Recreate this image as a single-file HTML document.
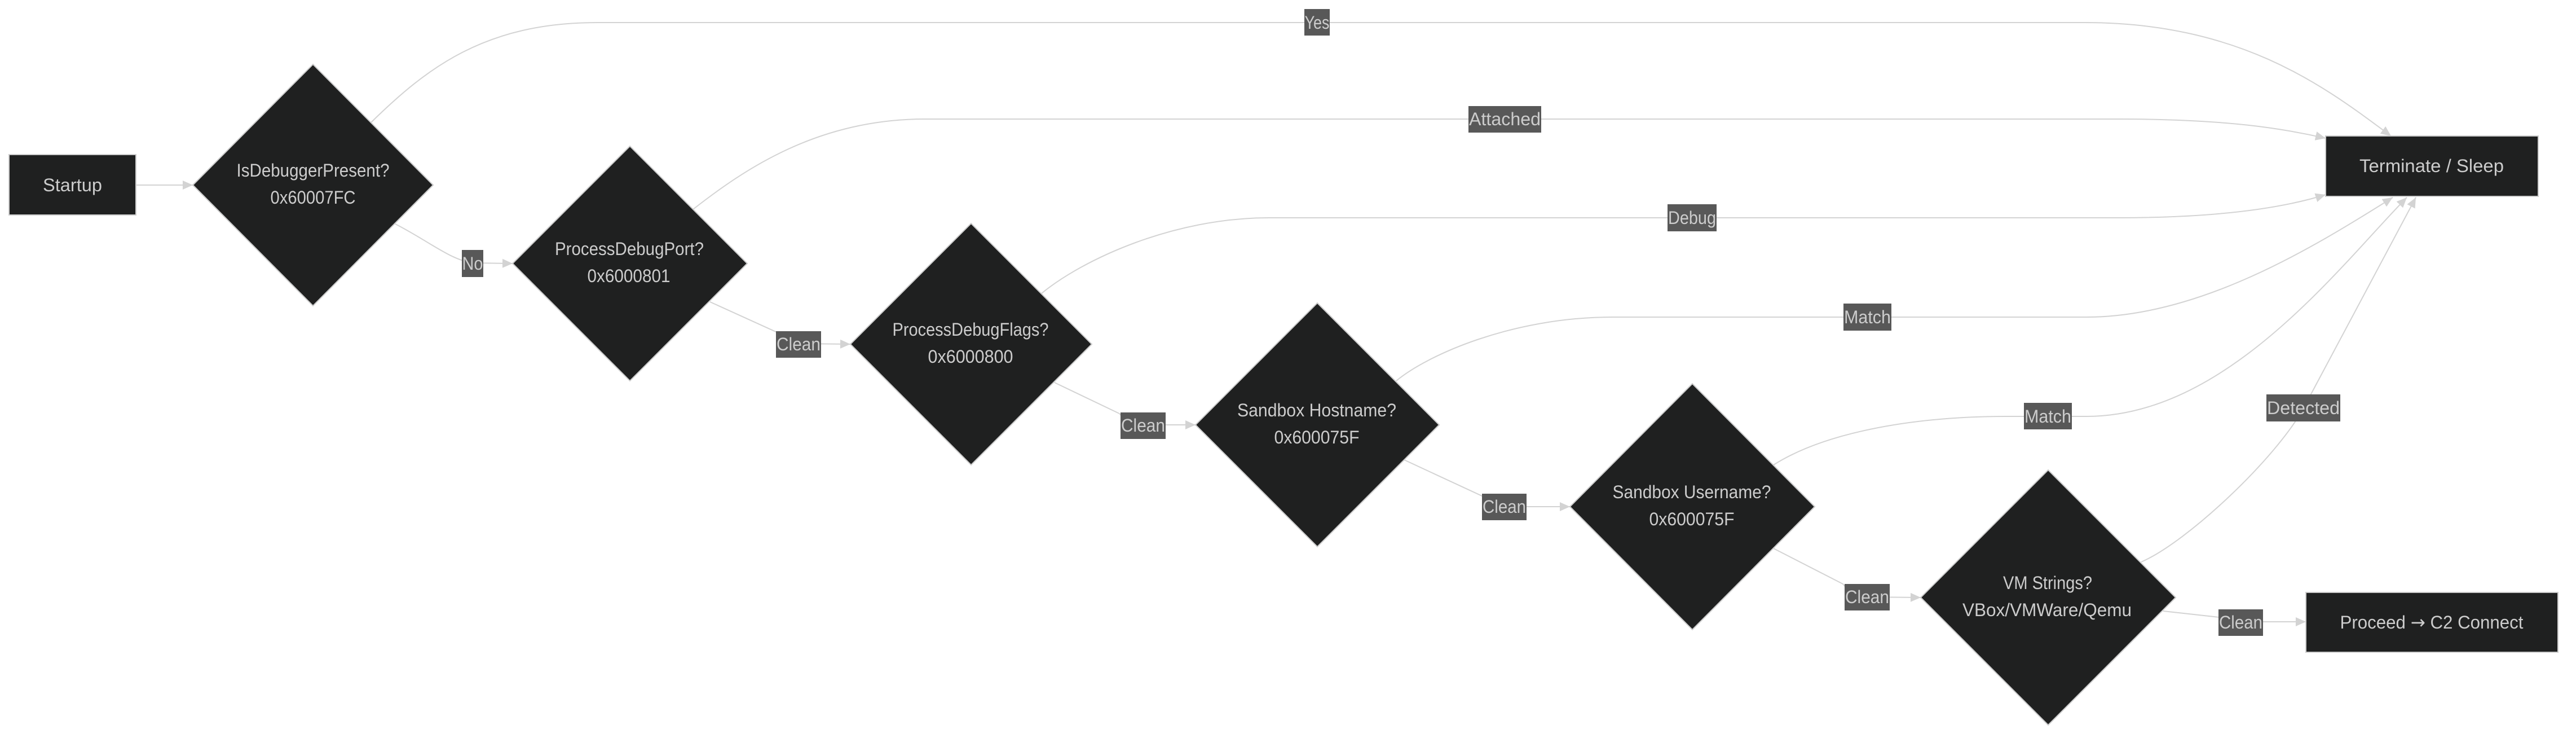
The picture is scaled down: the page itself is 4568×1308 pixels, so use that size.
<!DOCTYPE html>
<html>
<head>
<meta charset="utf-8">
<style>
  html, body { margin:0; padding:0; background:#ffffff; }
  svg { display:block; }
  .edge { fill:none; stroke:#d3d3d3; stroke-width:2; }
  .node { fill:#1f2020; stroke:#cccccc; stroke-width:2; }
  .lbl { fill:#585858; }
  text { font-family:"Liberation Sans","DejaVu Sans",sans-serif; font-size:32px; fill:#cccccc; text-anchor:middle; }
</style>
</head>
<body>
<svg width="4568" height="1308" viewBox="0 0 4568 1308" xmlns="http://www.w3.org/2000/svg">
  <defs>
    <marker id="ah" markerUnits="userSpaceOnUse" viewBox="0 0 18 16" markerWidth="18" markerHeight="16" refX="18" refY="8" orient="auto">
      <path d="M0,0 L18,8 L0,16 z" fill="#d3d3d3"/>
    </marker>
  </defs>

  <!-- Edges -->
  <path class="edge" marker-end="url(#ah)" d="M241,328 L342,328"/>
  <path class="edge" marker-end="url(#ah)" d="M657,218 C757,120 860,40 1060,40 L3697,40 C3980,40 4130,160 4240,241"/>
  <path class="edge" marker-end="url(#ah)" d="M701,397 C760,427 800,462 840,466 L909,467"/>
  <path class="edge" marker-end="url(#ah)" d="M1229,371 C1320,300 1450,211 1640,211 L3755,211 C3950,211 4050,228 4124,245"/>
  <path class="edge" marker-end="url(#ah)" d="M1259,535 L1380,590 Q1395,608 1420,609 L1508,610"/>
  <path class="edge" marker-end="url(#ah)" d="M1847,520 C1920,460 2080,386 2250,386 L3755,386 C3950,386 4060,365 4124,345"/>
  <path class="edge" marker-end="url(#ah)" d="M1870,678 L1985,733 Q2000,752 2030,753 L2120,753"/>
  <path class="edge" marker-end="url(#ah)" d="M2476,675 C2530,630 2680,562 2860,562 L3700,562 C3900,562 4100,440 4243,350"/>
  <path class="edge" marker-end="url(#ah)" d="M2490,815 L2630,880 Q2645,897 2670,898 L2784,898"/>
  <path class="edge" marker-end="url(#ah)" d="M3145,824 C3230,770 3380,738 3560,738 L3700,738 C3950,738 4150,470 4268,350"/>
  <path class="edge" marker-end="url(#ah)" d="M3145,972 L3268,1035 Q3285,1056 3311,1058 L3406,1059"/>
  <path class="edge" marker-end="url(#ah)" d="M3797,996 C3880,960 4037,811 4085,723 L4284,350"/>
  <path class="edge" marker-end="url(#ah)" d="M3836,1083 L3935,1094 Q3950,1102 3975,1102 L4089,1102"/>

  <!-- Nodes -->
  <rect class="node" x="16" y="274" width="225" height="107"/>
  <text x="128.5" y="339" textLength="105" lengthAdjust="spacingAndGlyphs">Startup</text>

  <polygon class="node" points="555,114 768,328 555,542 342,328"/>
  <text x="555" y="313" textLength="271" lengthAdjust="spacingAndGlyphs">IsDebuggerPresent?</text>
  <text x="555" y="361" textLength="151" lengthAdjust="spacingAndGlyphs">0x60007FC</text>

  <polygon class="node" points="1117,259 1325,467 1117,675 909,467"/>
  <text x="1116" y="452" textLength="264" lengthAdjust="spacingAndGlyphs">ProcessDebugPort?</text>
  <text x="1115" y="500" textLength="147" lengthAdjust="spacingAndGlyphs">0x6000801</text>

  <polygon class="node" points="1722,396 1936,610 1722,824 1508,610"/>
  <text x="1721" y="595" textLength="277" lengthAdjust="spacingAndGlyphs">ProcessDebugFlags?</text>
  <text x="1721" y="643" textLength="151" lengthAdjust="spacingAndGlyphs">0x6000800</text>

  <polygon class="node" points="2336,537 2552,753 2336,969 2120,753"/>
  <text x="2335" y="738" textLength="282" lengthAdjust="spacingAndGlyphs">Sandbox Hostname?</text>
  <text x="2335" y="786" textLength="151" lengthAdjust="spacingAndGlyphs">0x600075F</text>

  <polygon class="node" points="3001,680 3218,898 3001,1116 2784,898"/>
  <text x="3000" y="883" textLength="281" lengthAdjust="spacingAndGlyphs">Sandbox Username?</text>
  <text x="3000" y="931" textLength="151" lengthAdjust="spacingAndGlyphs">0x600075F</text>

  <polygon class="node" points="3632,833 3858,1059 3632,1285 3406,1059"/>
  <text x="3631" y="1044" textLength="158" lengthAdjust="spacingAndGlyphs">VM Strings?</text>
  <text x="3630" y="1092" textLength="300" lengthAdjust="spacingAndGlyphs">VBox/VMWare/Qemu</text>

  <rect class="node" x="4124" y="241" width="377" height="107"/>
  <text x="4312" y="305" textLength="256" lengthAdjust="spacingAndGlyphs">Terminate / Sleep</text>

  <rect class="node" x="4089" y="1050" width="447" height="106"/>
  <text x="4312" y="1114" textLength="325" lengthAdjust="spacingAndGlyphs">Proceed <tspan style="font-family:'DejaVu Sans',sans-serif">→</tspan> C2 Connect</text>

  <!-- Edge labels -->
  <rect class="lbl" x="2313" y="16" width="45" height="47"/>
  <text x="2335.5" y="51" textLength="44" lengthAdjust="spacingAndGlyphs">Yes</text>

  <rect class="lbl" x="819" y="443" width="38" height="48"/>
  <text x="838" y="478" textLength="37" lengthAdjust="spacingAndGlyphs">No</text>

  <rect class="lbl" x="2604" y="188" width="129" height="47"/>
  <text x="2668.5" y="222" textLength="127" lengthAdjust="spacingAndGlyphs">Attached</text>

  <rect class="lbl" x="1376" y="587" width="80" height="47"/>
  <text x="1416" y="621" textLength="78" lengthAdjust="spacingAndGlyphs">Clean</text>

  <rect class="lbl" x="2957" y="362" width="87" height="48"/>
  <text x="3000.5" y="397" textLength="85" lengthAdjust="spacingAndGlyphs">Debug</text>

  <rect class="lbl" x="1987" y="731" width="80" height="47"/>
  <text x="2027" y="765" textLength="78" lengthAdjust="spacingAndGlyphs">Clean</text>

  <rect class="lbl" x="3269" y="538" width="85" height="48"/>
  <text x="3311.5" y="573" textLength="83" lengthAdjust="spacingAndGlyphs">Match</text>

  <rect class="lbl" x="2628" y="875" width="79" height="47"/>
  <text x="2667.5" y="909" textLength="77" lengthAdjust="spacingAndGlyphs">Clean</text>

  <rect class="lbl" x="3589" y="714" width="85" height="47"/>
  <text x="3631.5" y="749" textLength="83" lengthAdjust="spacingAndGlyphs">Match</text>

  <rect class="lbl" x="3271" y="1035" width="80" height="47"/>
  <text x="3311" y="1069" textLength="78" lengthAdjust="spacingAndGlyphs">Clean</text>

  <rect class="lbl" x="4019" y="699" width="131" height="48"/>
  <text x="4084.5" y="734" textLength="129" lengthAdjust="spacingAndGlyphs">Detected</text>

  <rect class="lbl" x="3934" y="1080" width="79" height="47"/>
  <text x="3973.5" y="1114" textLength="77" lengthAdjust="spacingAndGlyphs">Clean</text>
</svg>
</body>
</html>
